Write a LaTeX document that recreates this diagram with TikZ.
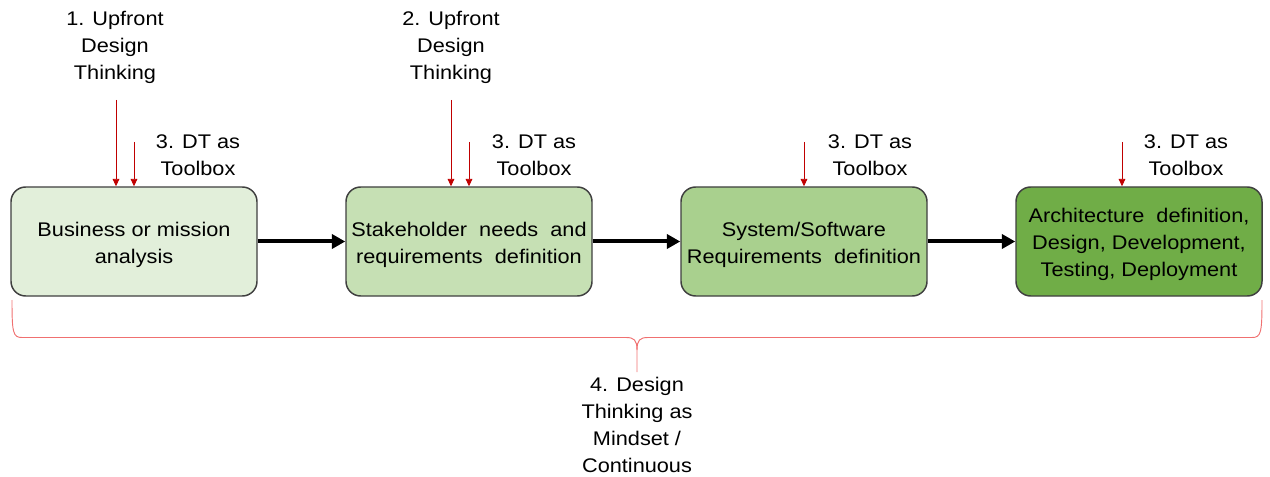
\documentclass[tikz,border=0pt]{standalone}
\usepackage{fontspec}
\setmainfont[FakeStretch=1.1]{Liberation Sans}
\usetikzlibrary{arrows.meta}
\definecolor{stageA}{HTML}{E2EFDA}
\definecolor{stageB}{HTML}{C6E0B4}
\definecolor{stageC}{HTML}{A9D08E}
\definecolor{stageD}{HTML}{70AD47}
\definecolor{edgegray}{HTML}{3F3F3F}
\definecolor{dtred}{HTML}{C00000}
\definecolor{bracered}{HTML}{F07070}
\tikzset{
  stagebox/.style={draw=edgegray, line width=1.1pt, rounded corners=11pt,
    minimum width=184.5pt, minimum height=81.75pt, inner sep=0pt},
  stagetext/.style={align=center, inner sep=0pt, yshift=-2.25pt,
    font=\fontsize{14.8}{20.25}\selectfont},
  flow/.style={line width=3pt, -{Triangle[length=10pt,width=10.5pt]}},
  dtarrow/.style={draw=dtred, line width=0.6pt, -{Triangle[length=5.5pt,width=5pt]}},
  lbl/.style={align=center, inner sep=0pt, font=\fontsize{14.8}{20.25}\selectfont},
  brace/.style={draw=bracered, line width=0.7pt}
}
\begin{document}
\begin{tikzpicture}[x=0.75pt,y=-0.75pt]
\useasboundingbox (0,0) rectangle (1270,477);

% process stages
\node[stagebox, fill=stageA] (s1) at (134,241.5) {};
\node[stagebox, fill=stageB] (s2) at (469,241.5) {};
\node[stagebox, fill=stageC] (s3) at (804,241.5) {};
\node[stagebox, fill=stageD] (s4) at (1139,241.5) {};
\node[stagetext] (s1t) at (s1.center) {Business or mission\\analysis};
\node[stagetext] (s2t) at (s2.center) {Stakeholder\ \ needs\ \ and\\requirements\ \ definition};
\node[stagetext] (s3t) at (s3.center) {System/Software\\Requirements\ \ definition};
\node[stagetext] (s4t) at (s4.center) {Architecture\ \ definition,\\Design, Development,\\Testing, Deployment};

% flow between stages
\draw[flow] (s1.east) -- (s2.west);
\draw[flow] (s2.east) -- (s3.west);
\draw[flow] (s3.east) -- (s4.west);

% upfront design thinking
\node[lbl] (u1) at (115,47) {1. Upfront\\Design\\Thinking};
\node[lbl] (u2) at (451,47) {2. Upfront\\Design\\Thinking};
\coordinate (u1s) at (116,100);
\coordinate (u2s) at (451,100);
\draw[dtarrow] (u1s) -- (u1s |- s1.north);
\draw[dtarrow] (u2s) -- (u2s |- s2.north);

% design thinking as toolbox
\node[lbl] (t1) at (198,155) {3. DT as\\Toolbox};
\node[lbl] (t2) at (534,155) {3. DT as\\Toolbox};
\node[lbl] (t3) at (870,155) {3. DT as\\Toolbox};
\node[lbl] (t4) at (1186,155) {3. DT as\\Toolbox};
\coordinate (d1) at (134,142);
\coordinate (d2) at (469,142);
\coordinate (d3) at (804,142);
\coordinate (d4) at (1122,142);
\draw[dtarrow] (d1) -- (d1 |- s1.north);
\draw[dtarrow] (d2) -- (d2 |- s2.north);
\draw[dtarrow] (d3) -- (d3 |- s3.north);
\draw[dtarrow] (d4) -- (d4 |- s4.north);

% continuous design thinking brace
\coordinate (bl) at (12,300);
\coordinate (br) at (1262,300);
\coordinate (bm) at (637,372);
\draw[brace] (bl) .. controls (12,333) and (13,337.5) .. (22,337.5)
  -- (626,337.5) .. controls (634,337.5) and (637,340) .. (637,350)
  -- (bm);
\draw[brace] (br) .. controls (1262,333) and (1261,337.5) .. (1252,337.5)
  -- (648,337.5) .. controls (640,337.5) and (637,340) .. (637,350);
\node[lbl] (m) at (637,425) {4. Design\\Thinking as\\Mindset /\\Continuous};
\end{tikzpicture}
\end{document}
